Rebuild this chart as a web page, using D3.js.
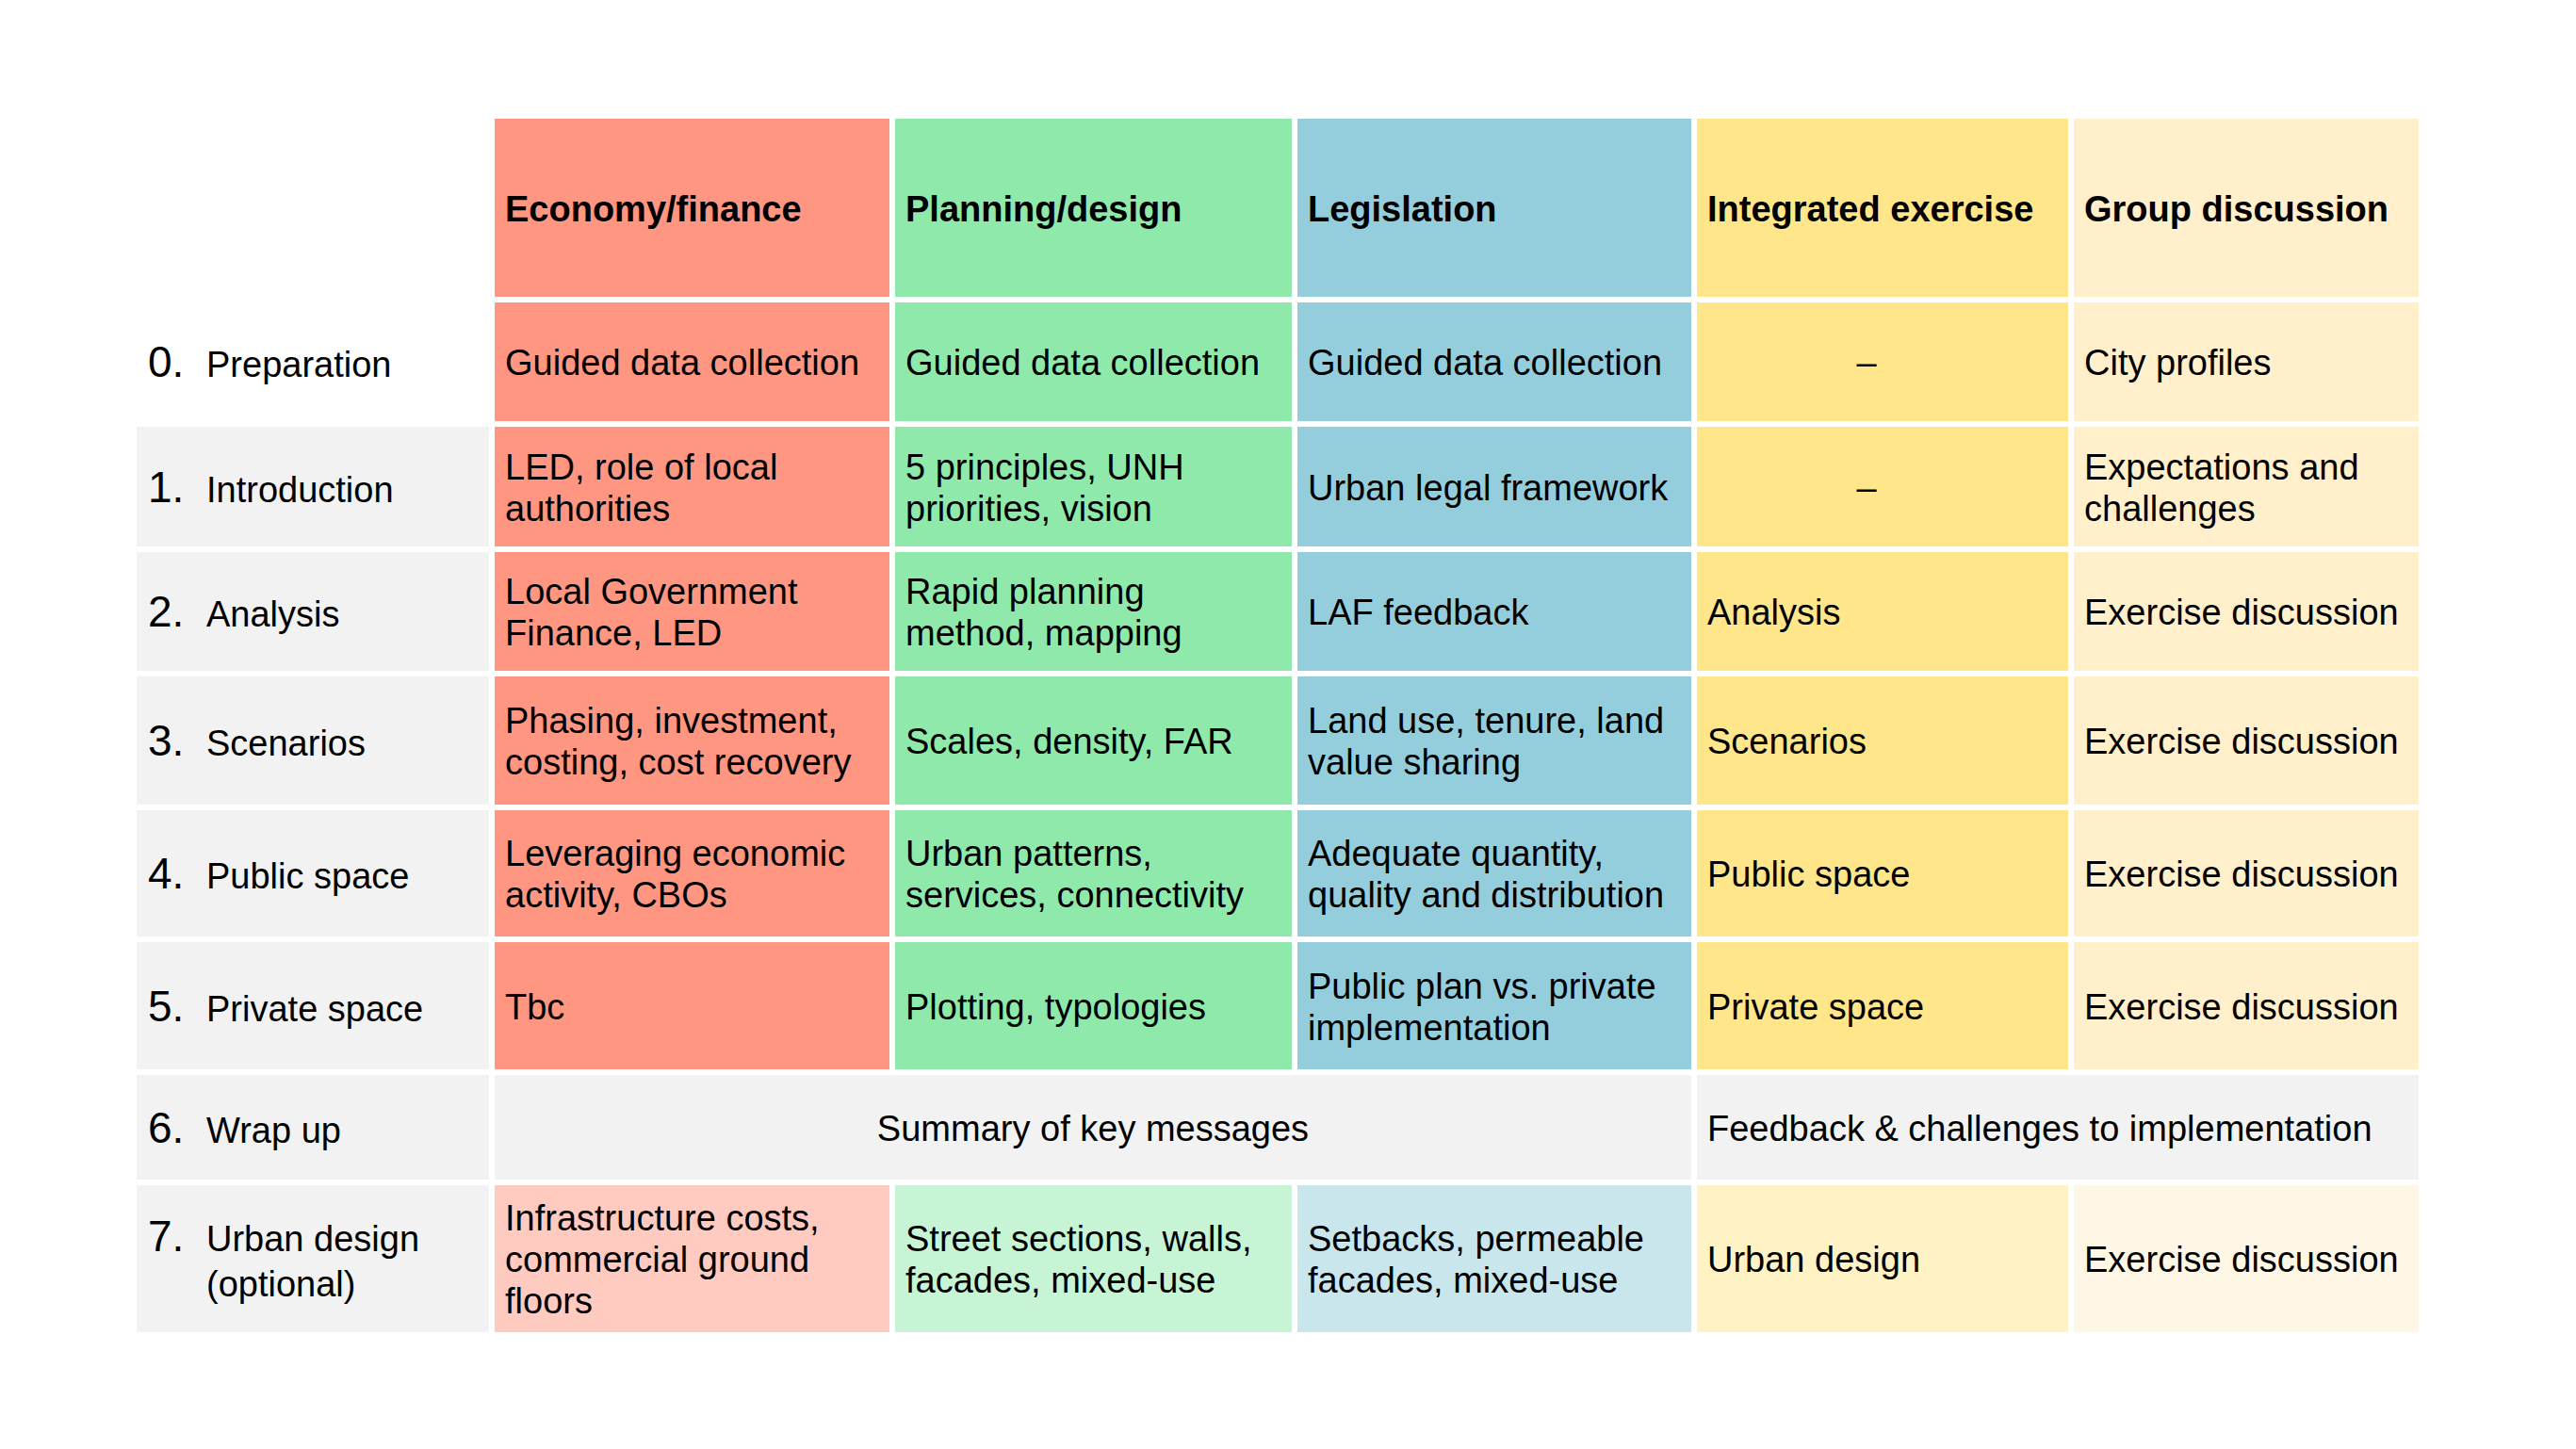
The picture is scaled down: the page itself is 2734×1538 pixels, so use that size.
<!DOCTYPE html>
<html>
<head>
<meta charset="utf-8">
<script src="https://cdn.jsdelivr.net/npm/d3@7"></script>
<style>
  body { margin: 0; background: #fff; }
  text { font-family: "Liberation Sans", Arial, Helvetica, sans-serif; fill: #000; }
</style>
</head>
<body>
<svg id="chart" width="2734" height="1538"></svg>
<script>
// column headers
var COLUMNS = ["Economy/finance", "Planning/design", "Legislation", "Integrated exercise", "Group discussion"];
var COL_COLORS = ["#ff9681", "#8fe9aa", "#94cedc", "#ffe68a", "#ffefcb"];

// steps (rows)
var STEP_NUMS = ["0.", "1.", "2.", "3.", "4.", "5.", "6.", "7."];
var STEP_NAMES = [
  ["Preparation"], ["Introduction"], ["Analysis"], ["Scenarios"],
  ["Public space"], ["Private space"], ["Wrap up"], ["Urban design", "(optional)"]
];
var OPTIONAL_STEPS = [7];

// cell text, one entry per column, each entry a list of lines
var CELLS = [
  [["Guided data collection"], ["Guided data collection"], ["Guided data collection"], ["–"], ["City profiles"]],
  [["LED, role of local", "authorities"], ["5 principles, UNH", "priorities, vision"], ["Urban legal framework"], ["–"], ["Expectations and", "challenges"]],
  [["Local Government", "Finance, LED"], ["Rapid planning", "method, mapping"], ["LAF feedback"], ["Analysis"], ["Exercise discussion"]],
  [["Phasing, investment,", "costing, cost recovery"], ["Scales, density, FAR"], ["Land use, tenure, land", "value sharing"], ["Scenarios"], ["Exercise discussion"]],
  [["Leveraging economic", "activity, CBOs"], ["Urban patterns,", "services, connectivity"], ["Adequate quantity,", "quality and distribution"], ["Public space"], ["Exercise discussion"]],
  [["Tbc"], ["Plotting, typologies"], ["Public plan vs. private", "implementation"], ["Private space"], ["Exercise discussion"]],
  null,
  [["Infrastructure costs,", "commercial ground", "floors"], ["Street sections, walls,", "facades, mixed-use"], ["Setbacks, permeable", "facades, mixed-use"], ["Urban design"], ["Exercise discussion"]]
];

// step 6 is made of two merged cells
var WRAP_UP_STEP = 6;
var WRAP_UP = [
  {first: 0, last: 2, text: "Summary of key messages", anchor: "middle"},
  {first: 3, last: 4, text: "Feedback & challenges to implementation", anchor: "start"}
];

// layout
var LEFT = 145, TOP = 126;
var LABEL_W = 374;
var GAP = 6;
var COL_W = [419, 421, 418, 394, 366];
var ROW_H = [189, 126, 127, 126, 136, 134, 135, 111, 156]; // header + steps
var PAD = 11;
var FONT = 38, NUM_FONT = 46;
var LINE_H = 44, LABEL_LINE_H = 48;
var GREY = "#f2f2f2";

var svg = d3.select("#chart");
svg.append("rect").attr("width", 2734).attr("height", 1538).attr("fill", "#fff");

// positions through ordinal scales
var colStarts = COL_W.map(function(w, i) {
  return LEFT + LABEL_W + GAP + d3.sum(COL_W.slice(0, i)) + i * GAP;
});
var x = d3.scaleOrdinal().domain(d3.range(COLUMNS.length)).range(colStarts);
var colW = d3.scaleOrdinal().domain(d3.range(COLUMNS.length)).range(COL_W);

var rowStarts = ROW_H.map(function(h, i) {
  return TOP + d3.sum(ROW_H.slice(0, i)) + i * GAP;
});
// row -1 is the header
var y = d3.scaleOrdinal().domain(d3.range(-1, STEP_NUMS.length)).range(rowStarts);
var rowH = d3.scaleOrdinal().domain(d3.range(-1, STEP_NUMS.length)).range(ROW_H);

function addLines(g, lines, tx, cy, anchor, opts) {
  var t = g.append("text")
    .attr("text-anchor", anchor)
    .attr("font-size", opts.size || FONT)
    .attr("font-weight", opts.bold ? "bold" : "normal");
  var lh = opts.lh || LINE_H;
  lines.forEach(function(line, i) {
    t.append("tspan")
      .attr("x", tx)
      .attr("y", cy + (opts.shift || 14) + (i - (lines.length - 1) / 2) * lh)
      .text(line);
  });
  return t;
}

// header row
var header = svg.append("g").attr("class", "header");
COLUMNS.forEach(function(name, c) {
  header.append("rect")
    .attr("x", x(c)).attr("y", y(-1))
    .attr("width", colW(c)).attr("height", rowH(-1))
    .attr("fill", COL_COLORS[c]);
  addLines(header, [name], x(c) + PAD, y(-1) + rowH(-1) / 2, "start", {bold: true});
});

// step rows
STEP_NUMS.forEach(function(num, r) {
  var g = svg.append("g").attr("class", "step r" + r);
  var cy = y(r) + rowH(r) / 2;

  // row label
  if (r > 0) {
    g.append("rect")
      .attr("x", LEFT).attr("y", y(r))
      .attr("width", LABEL_W).attr("height", rowH(r))
      .attr("fill", GREY);
  }
  var names = STEP_NAMES[r];
  var firstBase = cy + 16 - (names.length - 1) / 2 * LABEL_LINE_H;
  g.append("text")
    .attr("x", LEFT + 12).attr("y", firstBase)
    .attr("font-size", NUM_FONT)
    .text(num);
  addLines(g, names, LEFT + 74, cy, "start", {lh: LABEL_LINE_H, shift: 16});

  if (r === WRAP_UP_STEP) {
    WRAP_UP.forEach(function(m) {
      var x0 = x(m.first), x1 = x(m.last) + colW(m.last);
      g.append("rect")
        .attr("x", x0).attr("y", y(r))
        .attr("width", x1 - x0).attr("height", rowH(r))
        .attr("fill", GREY);
      var tx = m.anchor === "middle" ? (x0 + x1) / 2 : x0 + PAD;
      addLines(g, [m.text], tx, cy, m.anchor, {});
    });
    return;
  }

  var light = OPTIONAL_STEPS.indexOf(r) >= 0;
  CELLS[r].forEach(function(lines, c) {
    g.append("rect")
      .attr("x", x(c)).attr("y", y(r))
      .attr("width", colW(c)).attr("height", rowH(r))
      .attr("fill", COL_COLORS[c])
      .attr("fill-opacity", light ? 0.5 : 1);
    if (lines[0] === "–") {
      addLines(g, lines, x(c) + colW(c) / 2 - 17, cy, "middle", {});
    } else {
      addLines(g, lines, x(c) + PAD, cy, "start", {});
    }
  });
});
</script>
</body>
</html>
